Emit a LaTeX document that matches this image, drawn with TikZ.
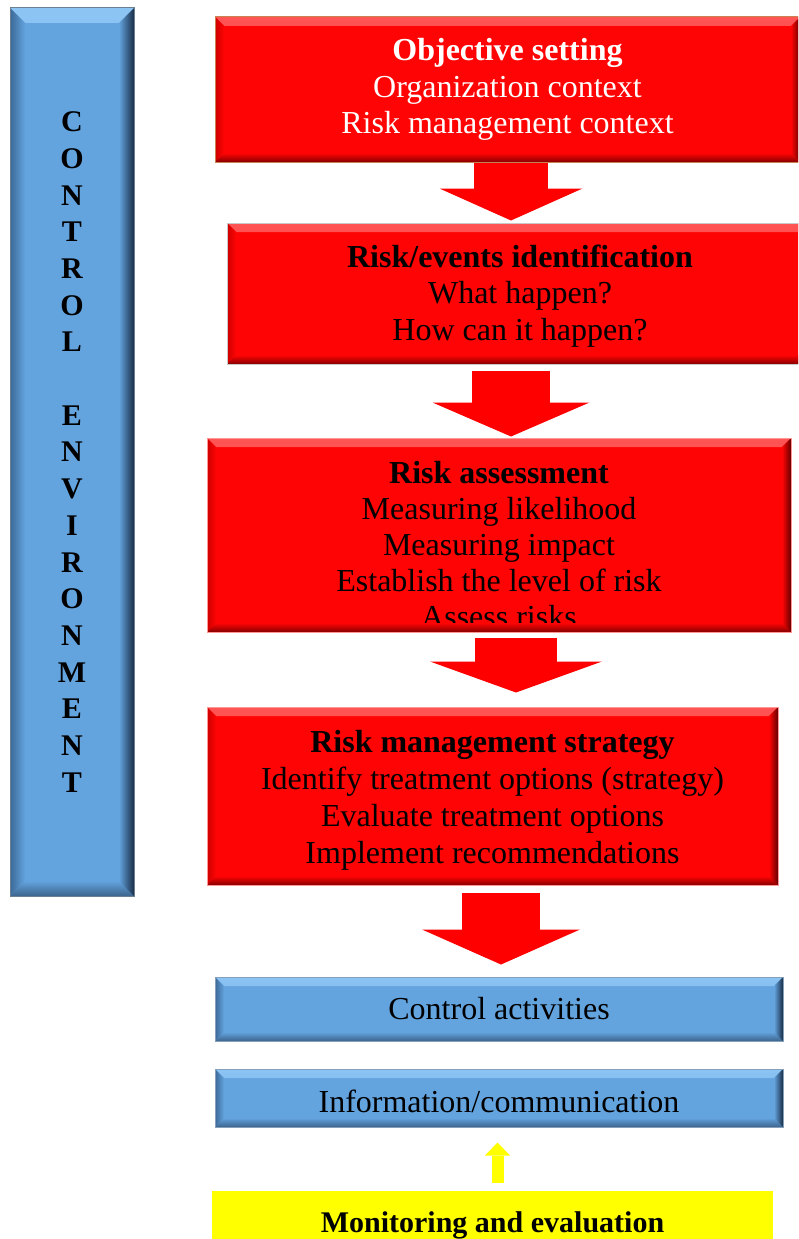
\documentclass[tikz,border=0pt]{standalone}
\usepackage{fontspec}
\setmainfont{Liberation Serif}
\usepackage{tikz}
\usetikzlibrary{arrows.meta}
\definecolor{boxred}{RGB}{255,4,4}
\definecolor{redtop}{RGB}{255,85,85}
\definecolor{redleft}{RGB}{205,0,0}
\definecolor{redbottom}{RGB}{135,0,0}
\definecolor{redright}{RGB}{100,0,0}
\definecolor{boxblue}{RGB}{99,163,222}
\definecolor{bluetop}{RGB}{140,196,244}
\definecolor{blueleft}{RGB}{60,105,150}
\definecolor{bluebottom}{RGB}{60,100,140}
\definecolor{blueright}{RGB}{25,45,70}
\definecolor{arrowred}{RGB}{255,0,0}
\definecolor{markyellow}{RGB}{255,255,0}
\definecolor{objborder}{RGB}{200,130,80}
\definecolor{greyborder}{RGB}{200,200,200}
\definecolor{pinkborder}{RGB}{255,150,150}
\definecolor{blueborder}{RGB}{135,160,185}

% bevel: base, top, left, bottom, right, size
\newcommand{\bevelbox}[6]{%
  \shade[top color=#2, bottom color=#1] (path picture bounding box.north west) -- (path picture bounding box.north east)
    -- ([xshift=-#6,yshift=-#6]path picture bounding box.north east) -- ([xshift=#6,yshift=-#6]path picture bounding box.north west) -- cycle;
  \shade[left color=#3, right color=#1] (path picture bounding box.north west) -- ([xshift=#6,yshift=-#6]path picture bounding box.north west)
    -- ([xshift=#6,yshift=#6]path picture bounding box.south west) -- (path picture bounding box.south west) -- cycle;
  \shade[top color=#1, bottom color=#4] (path picture bounding box.south west) -- ([xshift=#6,yshift=#6]path picture bounding box.south west)
    -- ([xshift=-#6,yshift=#6]path picture bounding box.south east) -- (path picture bounding box.south east) -- cycle;
  \shade[left color=#1, right color=#5] (path picture bounding box.south east) -- ([xshift=-#6,yshift=#6]path picture bounding box.south east)
    -- ([xshift=-#6,yshift=-#6]path picture bounding box.north east) -- (path picture bounding box.north east) -- cycle;
}

\begin{document}
\begin{tikzpicture}[
    x=1pt, y=-1pt,
    redbox/.style={draw=#1, line width=1pt, fill=boxred, inner sep=0pt, align=center, font=\fontsize{32}{36.5}\selectfont, path picture={\bevelbox{boxred}{redtop}{redleft}{redbottom}{redright}{9pt}}},
    bluebox/.style={draw=blueborder, line width=1pt, fill=boxblue, inner sep=0pt, align=center, font=\fontsize{32}{36.5}\selectfont, path picture={\bevelbox{boxblue}{bluetop}{blueleft}{bluebottom}{blueright}{#1}}},
    boxtext/.style={align=center, font=\fontsize{32}{#1}\selectfont},
    bigarrow/.style n args={3}{draw=arrowred, line width=#1, -{Triangle[width=#2, length=#3, line width=0pt]}}
]
    \useasboundingbox (0,0) rectangle (798,1239);
    \clip (0,0) rectangle (798,1239);

    % Control environment bar
    \node[bluebox=15pt, draw=blueborder!80!black, minimum width=124pt, minimum height=888pt, font=\fontsize{30}{36.7}\selectfont\bfseries] (env) at (72,452)
        {C\\O\\N\\T\\R\\O\\L\\[36.7pt]E\\N\\V\\I\\R\\O\\N\\M\\E\\N\\T};

    % Red steps
    \node[redbox=objborder, minimum width=585pt, minimum height=145pt, text=white] (obj) at (507.5,89.5)
        {\textbf{Objective setting}\\Organization context\\Risk management context};
    \node[redbox=greyborder, minimum width=586pt, minimum height=141pt] (ident) at (520,293.5) {};
    \node[boxtext=36.2] (identtxt) at ([yshift=-2.5pt]ident.center)
        {\textbf{Risk/events identification}\\What happen?\\How can it happen?};
    \node[redbox=pinkborder, minimum width=584pt, minimum height=194pt] (assess) at (499,535) {};
    \begin{scope}
        \clip ([yshift=10pt]assess.south west) rectangle (assess.north east);
        \node[boxtext=36.2] (assesstxt) at (499,544.5)
            {\textbf{Risk assessment}\\Measuring likelihood\\Measuring impact\\Establish the level of risk\\Assess risks};
    \end{scope}
    \node[redbox=pinkborder, minimum width=571pt, minimum height=178pt] (strat) at (492.5,796) {};
    \node[boxtext=37] (strattxt) at ([yshift=-4pt]strat.center)
        {\textbf{Risk management strategy}\\Identify treatment options (strategy)\\Evaluate treatment options\\Implement recommendations};

    % Blue components
    \node[bluebox=9pt, minimum width=568pt, minimum height=64pt] (ctrl) at (499,1009) {Control activities};
    \node[bluebox=9pt, minimum width=568pt, minimum height=58pt] (info) at (499,1098) {};
    \node[boxtext=36] (infotxt) at ([yshift=-3pt]info.center) {Information/communication};

    % Monitoring
    \node[fill=markyellow, minimum width=561pt, minimum height=80pt] (monitor) at (492.5,1231) {};
    \node[anchor=base, font=\fontsize{30}{36}\selectfont\bfseries] (montxt) at (492.5,1232) {Monitoring and evaluation};

    % Arrows
    \draw[bigarrow={74pt}{143pt}{32pt}] ([xshift=3.5pt]obj.south) -- ([xshift=-9pt,yshift=2pt]ident.north);
    \draw[bigarrow={78pt}{157pt}{34pt}] ([xshift=-9pt,yshift=-6pt]ident.south) -- ([xshift=12pt,yshift=1pt]assess.north);
    \draw[bigarrow={82pt}{172pt}{31pt}] ([xshift=17pt,yshift=-5pt]assess.south) -- ([xshift=23.5pt,yshift=14pt]strat.north);
    \draw[bigarrow={78pt}{158pt}{35pt}] ([xshift=8.5pt,yshift=-7pt]strat.south) -- ([xshift=2pt,yshift=12pt]ctrl.north);
    \draw[bigarrow={12pt}{25pt}{13pt}, draw=markyellow] ([xshift=5pt,yshift=8pt]monitor.north) -- ([xshift=-1.5pt,yshift=-15pt]info.south);
\end{tikzpicture}
\end{document}
